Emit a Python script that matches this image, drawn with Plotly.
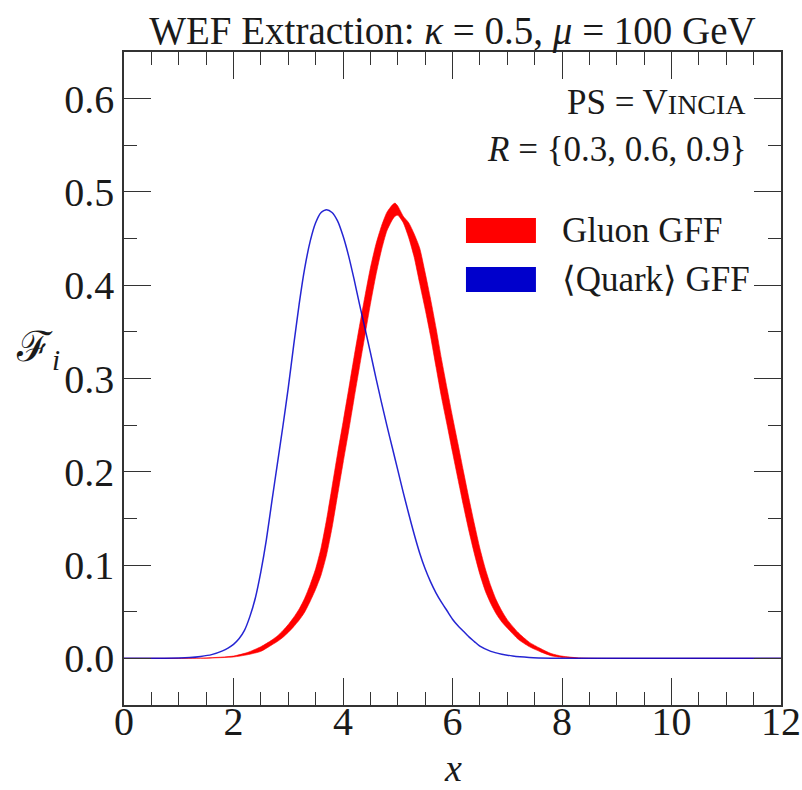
import plotly.graph_objects as go

# Gluon GFF band on a common x grid: lower and upper envelope of the R variations
gluon_x = [0.0, 1.0, 1.5, 2.0, 2.25, 2.5, 2.7, 2.8, 2.9, 3.0, 3.1, 3.2, 3.3, 3.4, 3.5, 3.6,
           3.7, 3.8, 3.9, 4.0, 4.1, 4.2, 4.3, 4.4, 4.5, 4.6, 4.7, 4.8, 4.9, 4.95, 5.0, 5.1,
           5.2, 5.3, 5.4, 5.5, 5.6, 5.7, 5.8, 5.9, 6.0, 6.1, 6.2, 6.3, 6.4, 6.5, 6.6, 6.7,
           6.8, 6.9, 7.0, 7.2, 7.4, 7.6, 7.8, 8.0, 8.3, 8.6, 12.0]
gluon_hi = [0.0, 0.0, 0.0004, 0.0025, 0.0062, 0.0125, 0.0196, 0.024, 0.0296, 0.0362, 0.044,
            0.053, 0.0645, 0.079, 0.096, 0.1186, 0.149, 0.184, 0.2194, 0.253, 0.2874, 0.3224,
            0.356, 0.388, 0.4185, 0.4436, 0.463, 0.478, 0.486, 0.488, 0.485, 0.474, 0.467,
            0.455, 0.440, 0.4135, 0.385, 0.354, 0.3205, 0.2895, 0.259, 0.230, 0.2005, 0.1715,
            0.144, 0.118, 0.096, 0.0775, 0.0625, 0.051, 0.0415, 0.0276, 0.0174, 0.0108,
            0.0052, 0.0024, 0.0005, 0.0, 0.0]
gluon_lo = [0.0, 0.0, 0.0002, 0.0015, 0.0038, 0.0075, 0.0144, 0.018, 0.0224, 0.0278, 0.034,
            0.041, 0.0495, 0.061, 0.074, 0.0894, 0.111, 0.140, 0.1746, 0.209, 0.2426, 0.2776,
            0.312, 0.346, 0.3795, 0.4104, 0.437, 0.458, 0.470, 0.474, 0.475, 0.467, 0.451,
            0.430, 0.402, 0.3745, 0.345, 0.312, 0.2795, 0.2505, 0.221, 0.192, 0.1635, 0.1365,
            0.112, 0.090, 0.072, 0.0585, 0.0475, 0.039, 0.0325, 0.0204, 0.0126, 0.0072,
            0.0028, 0.001, 0.0001, 0.0, 0.0]

# <Quark> GFF (band is only a line width wide)
quark_x = [0.0, 0.5, 1.0, 1.2, 1.4, 1.6, 1.8, 1.9, 2.0, 2.1, 2.2, 2.3, 2.4, 2.5, 2.6, 2.7,
           2.8, 2.9, 3.0, 3.1, 3.2, 3.3, 3.4, 3.5, 3.6, 3.7, 3.8, 3.9, 4.0, 4.1, 4.2, 4.3,
           4.4, 4.5, 4.6, 4.7, 4.8, 4.9, 5.0, 5.1, 5.2, 5.3, 5.4, 5.5, 5.6, 5.7, 5.8, 5.9,
           6.0, 6.1, 6.2, 6.3, 6.4, 6.5, 6.7, 6.9, 7.1, 7.4, 7.8, 8.2, 12.0]
quark_y = [0.0, 0.0, 0.0003, 0.0008, 0.002, 0.004, 0.008, 0.011, 0.015, 0.021, 0.030, 0.045,
           0.065, 0.093, 0.127, 0.168, 0.208, 0.248, 0.290, 0.336, 0.380, 0.418, 0.447,
           0.467, 0.478, 0.481, 0.478, 0.469, 0.453, 0.432, 0.407, 0.380, 0.354, 0.328,
           0.301, 0.275, 0.250, 0.226, 0.202, 0.178, 0.155, 0.133, 0.113, 0.096, 0.082,
           0.070, 0.060, 0.051, 0.042, 0.035, 0.029, 0.023, 0.018, 0.013, 0.0075, 0.0045,
           0.0025, 0.001, 0.0002, 0.0, 0.0]

x_ticks = [0, 2, 4, 6, 8, 10, 12]
x_minor_ticks = [i * 0.5 for i in range(25)]
y_ticks = [0.0, 0.1, 0.2, 0.3, 0.4, 0.5, 0.6]
y_minor_ticks = [round(-0.05 + i * 0.05, 2) for i in range(15)]

RED = "#FF0000"
BLUE = "#0000CC"
FONT = "'Liberation Serif', 'DejaVu Serif', serif"
AXIS_COL = "#333333"
TEXT_COL = "#1a1a1a"
X_RANGE = [0, 12]
Y_RANGE = [-0.05, 0.65]

fig = go.Figure()

# gluon band: lower edge, then upper edge filled down to it
fig.add_trace(go.Scatter(x=gluon_x, y=gluon_lo, mode="lines",
                         line=dict(color=RED, width=0.6, shape="spline", smoothing=0.6),
                         showlegend=False, hoverinfo="skip"))
fig.add_trace(go.Scatter(x=gluon_x, y=gluon_hi, mode="lines", fill="tonexty",
                         fillcolor=RED,
                         line=dict(color=RED, width=0.6, shape="spline", smoothing=0.6),
                         showlegend=False, hoverinfo="skip"))

fig.add_trace(go.Scatter(
    x=quark_x, y=quark_y, mode="lines",
    line=dict(color=BLUE, width=1.5, shape="spline", smoothing=0.6),
    opacity=0.85, showlegend=False, hoverinfo="skip"))

# invisible traces so the extra tick axes (minor ticks, mirrored sides) get drawn
for xa, ya in (("x2", "y2"), ("x3", "y3"), ("x4", "y4")):
    fig.add_trace(go.Scatter(x=X_RANGE, y=[0, 0], xaxis=xa, yaxis=ya, mode="lines",
                             line=dict(width=0), showlegend=False, hoverinfo="skip"))

base = dict(showgrid=False, zeroline=False, showline=True, linecolor=AXIS_COL,
            linewidth=1.5, ticks="inside", tickcolor=AXIS_COL, automargin=False,
            tickfont=dict(family=FONT, size=40, color=TEXT_COL))
major = dict(base, ticklen=27, tickwidth=1.2)
minor = dict(base, ticklen=13, tickwidth=1.1, showticklabels=False)

fig.update_layout(
    # bottom / left: labelled major ticks
    xaxis=dict(major, range=X_RANGE, tickvals=x_ticks, ticktext=[str(v) for v in x_ticks],
               ticklabelstandoff=-20),
    yaxis=dict(major, range=Y_RANGE, tickvals=y_ticks,
               ticktext=[f"{v:.1f}" for v in y_ticks]),
    # bottom / left: minor ticks
    xaxis2=dict(minor, range=X_RANGE, tickvals=x_minor_ticks, overlaying="x", side="bottom",
                anchor="y2"),
    yaxis2=dict(minor, range=Y_RANGE, tickvals=y_minor_ticks, overlaying="y", side="left",
                anchor="x2"),
    # top / right: major ticks
    xaxis3=dict(major, range=X_RANGE, tickvals=x_ticks, overlaying="x", side="top",
                showticklabels=False, anchor="y3"),
    yaxis3=dict(major, range=Y_RANGE, tickvals=y_ticks, overlaying="y", side="right",
                showticklabels=False, anchor="x3"),
    # top / right: minor ticks
    xaxis4=dict(minor, range=X_RANGE, tickvals=x_minor_ticks, overlaying="x", side="top",
                anchor="y4"),
    yaxis4=dict(minor, range=Y_RANGE, tickvals=y_minor_ticks, overlaying="y", side="right",
                anchor="x4"),
)

# hand-drawn legend swatches
fig.add_shape(type="rect", xref="paper", yref="paper", x0=0.5205, x1=0.627,
              y0=0.7075, y1=0.7458, fillcolor=RED, line=dict(width=0))
fig.add_shape(type="rect", xref="paper", yref="paper", x0=0.5205, x1=0.627,
              y0=0.6325, y1=0.6708, fillcolor=BLUE, line=dict(width=0))

txt = dict(family=FONT, size=35, color=TEXT_COL)
annotations = [
    dict(text="Gluon GFF", x=0.663, y=0.726, xanchor="left", yanchor="middle", font=txt),
    dict(text="\u27e8Quark\u27e9 GFF", x=0.663, y=0.651, xanchor="left", yanchor="middle",
         font=txt),
    dict(text="PS = V<span style='font-size:28px'>INCIA</span>", x=0.9498, y=0.922,
         xanchor="right", yanchor="middle", font=txt),
    dict(text="<i>R</i> = {0.3, 0.6, 0.9}", x=0.9498, y=0.85,
         xanchor="right", yanchor="middle", font=txt),
    dict(text="<i>x</i>", x=0.5, y=-0.0965, xanchor="center", yanchor="middle",
         font=dict(family=FONT, size=38, color=TEXT_COL)),
    dict(text="\u2131<sub><i>i</i></sub>", x=-0.131, y=0.5436, xanchor="center",
         yanchor="middle", font=dict(family=FONT, size=42, color=TEXT_COL)),
]
for a in annotations:
    a.update(xref="paper", yref="paper", showarrow=False)
fig.update_layout(annotations=annotations)

fig.update_layout(
    width=802, height=790,
    margin=dict(l=124, r=21, t=52, b=85),
    paper_bgcolor="white", plot_bgcolor="white",
    title=dict(text="WEF Extraction: <i>\u03ba</i> = 0.5, <i>\u03bc</i> = 100 GeV",
               x=0.5642, xanchor="center", y=1 - 30 / 790, yanchor="middle",
               font=dict(family=FONT, size=39, color=TEXT_COL)),
)

fig.write_html("out.html")
